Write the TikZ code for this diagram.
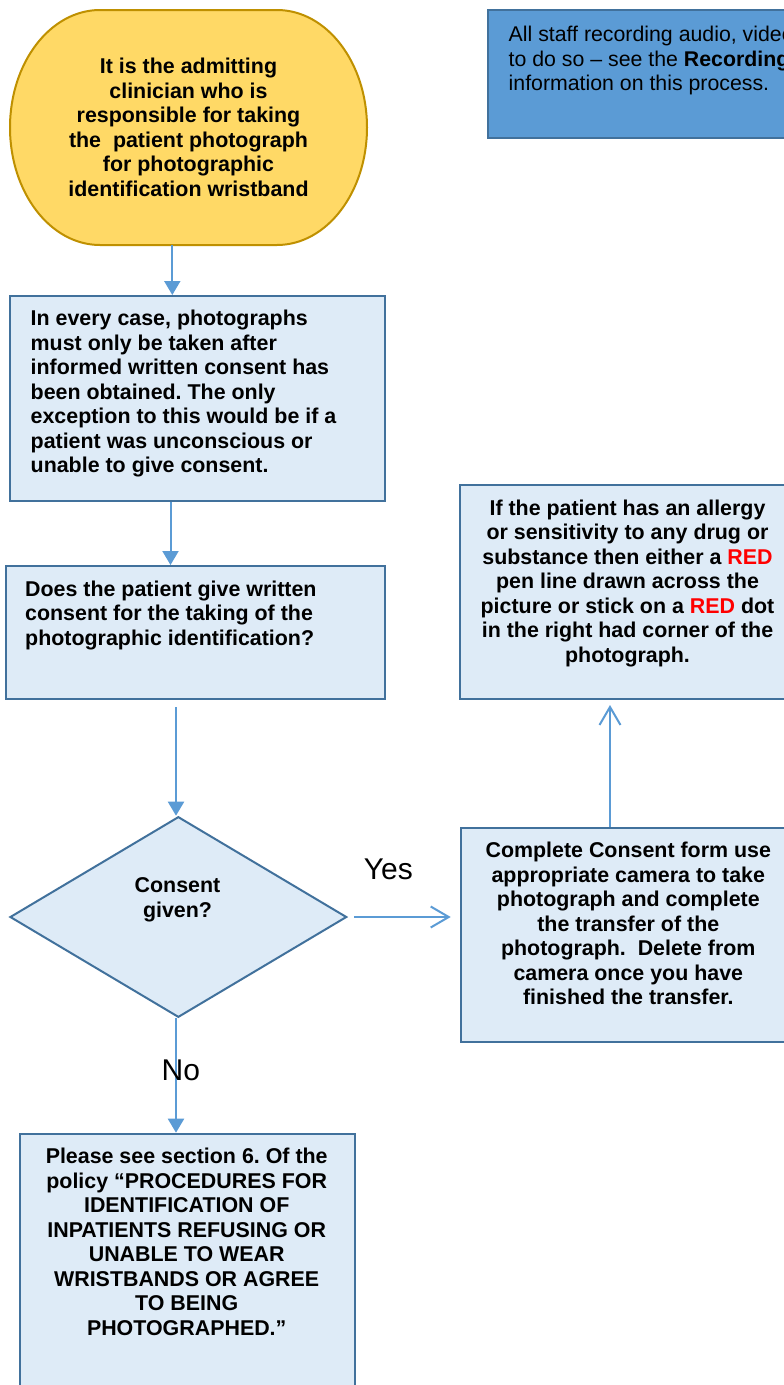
\documentclass[tikz,border=0pt]{standalone}
\usepackage{fontspec}
\setmainfont{Liberation Sans}
\usetikzlibrary{arrows.meta,shapes.geometric}
\definecolor{boxfill}{HTML}{DEEBF7}
\definecolor{boxline}{HTML}{41719C}
\definecolor{arrowblue}{HTML}{5B9BD5}
\definecolor{goldfill}{HTML}{FFD966}
\definecolor{goldline}{HTML}{BF9000}
\definecolor{darkfill}{HTML}{5B9BD5}
\definecolor{redtxt}{HTML}{FF0000}
\newcommand{\firststrut}{\rule{0pt}{16pt}}
\newcommand{\redword}[1]{\textcolor{redtxt}{#1}}
\begin{document}
\frenchspacing
\begin{tikzpicture}[x=1pt,y=-1pt,
  box/.style={draw=boxline,fill=boxfill,line width=2pt,inner sep=0pt,anchor=north west},
  darkbox/.style={draw=boxline,fill=darkfill,line width=2pt,inner sep=0pt,anchor=north west},
  decision/.style={diamond,draw=boxline,fill=boxfill,line width=2pt,inner sep=0pt},
  stadium/.style={draw=goldline,fill=goldfill,line width=2pt},
  txt/.style={inner sep=0pt,anchor=north,align=center,font=\bfseries\fontsize{21.4}{24.5}\selectfont},
  ltxt/.style={inner sep=0pt,anchor=north west,align=left,font=\bfseries\fontsize{21.4}{24.5}\selectfont},
  rtxt/.style={inner sep=0pt,anchor=north west,align=left,font=\fontsize{21.3}{24.3}\selectfont},
  lbl/.style={inner sep=0pt,font=\fontsize{30}{36}\selectfont},
  arr/.style={draw=arrowblue,line width=2pt,-{Triangle[length=14pt,width=16pt]}},
  arro/.style={draw=arrowblue,line width=2pt,-{Straight Barb[length=18pt,width=21pt]}}
]
\useasboundingbox (0,0) rectangle (784,1385);
\clip (0,0) rectangle (784,1385);
\fill[white] (0,0) rectangle (784,1385);

% start terminator
\draw[stadium] (100,10) -- (277,10) .. controls (326.7,10) and (367,62.6) .. (367,127.5)
  .. controls (367,192.4) and (326.7,245) .. (277,245) -- (100,245)
  .. controls (50.3,245) and (10,192.4) .. (10,127.5)
  .. controls (10,62.6) and (50.3,10) .. (100,10) -- cycle;
\node[minimum width=357pt,minimum height=235pt,inner sep=0pt] (start) at (188.5,127.5) {};
\node[txt] (starttxt) at (188.5,57.3) {\firststrut It is the admitting\\clinician who is\\responsible for taking\\the\ \ patient photograph\\for photographic\\identification wristband};

% boxes
\node[darkbox,minimum width=313.3pt,minimum height=128pt] (b0) at (486.7,9.3) {};
\node[box,minimum width=374.7pt,minimum height=205pt] (b1) at (9.3,295) {};
\node[box,minimum width=379.3pt,minimum height=133pt] (b2) at (4.7,565) {};
\node[box,minimum width=340.7pt,minimum height=214pt] (b3) at (459.3,484) {};
\node[box,minimum width=340pt,minimum height=213.7pt] (b4) at (460,827) {};
\node[box,minimum width=335pt,minimum height=270pt] (b5) at (19.3,1132.7) {};
\node[decision,minimum width=336.7pt,minimum height=200.6pt] (d) at (178.35,917) {};

% texts
\node[rtxt] (t0) at (508.5,25.7) {\firststrut All staff recording audio, video\\to do so -- see the \textbf{Recording}\\information on this process.};
\node[ltxt] (t1) at (30.5,309.7) {\firststrut In every case, photographs\\must only be taken after\\informed written consent has\\been obtained. The only\\exception to this would be if a\\patient was unconscious or\\unable to give consent.};
\node[ltxt] (t2) at (25,580) {\firststrut Does the patient give written\\consent for the taking of the\\photographic identification?};
\node[txt] (td) at (177.5,876.3) {\firststrut Consent\\given?};
\node[txt] (t3) at (627.5,499) {\firststrut If the patient has an allergy\\or sensitivity to any drug or\\substance then either a \redword{RED}\\pen line drawn across the\\picture or stick on a \redword{RED} dot\\in the right had corner of the\\photograph.};
\node[txt] (t4) at (628.3,841.3) {\firststrut Complete Consent form use\\appropriate camera to take\\photograph and complete\\the transfer of the\\photograph.\ \ Delete from\\camera once you have\\finished the transfer.};
\node[txt] (t5) at (186.7,1147.3) {\firststrut Please see section 6. Of the\\policy “PROCEDURES FOR\\IDENTIFICATION OF\\INPATIENTS REFUSING OR\\UNABLE TO WEAR\\WRISTBANDS OR AGREE\\TO BEING\\PHOTOGRAPHED.”};

% connectors
\coordinate (x1) at (172.3,0);
\coordinate (x2) at (170.5,0);
\coordinate (x3) at (176,0);
\coordinate (x5) at (610,0);
\draw[arr] (start.south -| x1) -- (b1.north -| x1);
\draw[arr] (b1.south -| x2) -- (b2.north -| x2);
\path (b2.south -| x3) coordinate (a3s);
\draw[arr] ([yshift=-7pt]a3s) -- (d.north -| x3);
\path (d.east -| b4.west) coordinate (yend);
\draw[arro] ([xshift=6.6pt]d.east) -- ([xshift=-9.3pt]yend);
\path (b3.south -| x5) coordinate (upend);
\draw[arro] (b4.north -| x5) -- ([yshift=-5pt]upend);
\draw[arr] (d.south -| x3) -- (b5.north -| x3);

% labels
\node[lbl,anchor=base] (yes) at (388.3,879.5) {Yes};
\node[lbl,anchor=base west] (no) at (161.5,1080.5) {No};
\end{tikzpicture}
\end{document}
